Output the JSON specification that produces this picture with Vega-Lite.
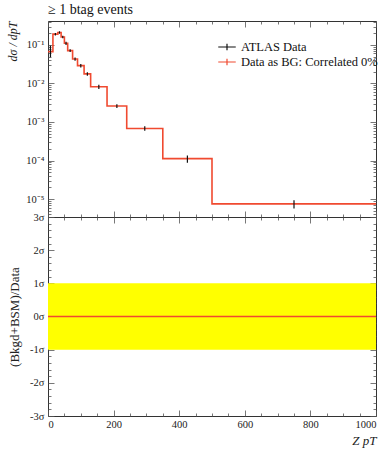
{
  "$schema": "https://vega.github.io/schema/vega-lite/v6.json",
  "background": "white",
  "padding": {"left": 6, "top": 2, "right": 0, "bottom": 0},
  "spacing": 0,
  "bounds": "flush",
  "config": {
    "font": "Liberation Serif",
    "view": {"stroke": "#333333", "strokeWidth": 1},
    "axis": {
      "domain": false, "grid": false,
      "labelFont": "Liberation Serif", "labelFontSize": 10.5, "labelColor": "#222222",
      "tickColor": "#555555", "tickWidth": 0.8, "labelOverlap": false,
      "titleFont": "Liberation Serif", "titleFontStyle": "italic", "titleFontWeight": "normal",
      "titleFontSize": 12, "titleColor": "#222222"
    }
  },
  "datasets": {
    "bins": [
      {"lo": 0, "hi": 15, "mid": 7.5, "val": 0.067, "errlo": 0.048, "errhi": 0.096, "dev": 0},
      {"lo": 15, "hi": 30, "mid": 22.5, "val": 0.19, "errlo": 0.175, "errhi": 0.205, "dev": 0},
      {"lo": 30, "hi": 40, "mid": 35, "val": 0.21, "errlo": 0.195, "errhi": 0.226, "dev": 0},
      {"lo": 40, "hi": 50, "mid": 45, "val": 0.16, "errlo": 0.148, "errhi": 0.172, "dev": 0},
      {"lo": 50, "hi": 60, "mid": 55, "val": 0.11, "errlo": 0.1, "errhi": 0.12, "dev": 0},
      {"lo": 60, "hi": 75, "mid": 67.5, "val": 0.071, "errlo": 0.065, "errhi": 0.077, "dev": 0},
      {"lo": 75, "hi": 90, "mid": 82.5, "val": 0.043, "errlo": 0.039, "errhi": 0.047, "dev": 0},
      {"lo": 90, "hi": 110, "mid": 100, "val": 0.029, "errlo": 0.026, "errhi": 0.032, "dev": 0},
      {"lo": 110, "hi": 130, "mid": 120, "val": 0.0177, "errlo": 0.0158, "errhi": 0.0196, "dev": 0},
      {"lo": 130, "hi": 180, "mid": 155, "val": 0.0082, "errlo": 0.0072, "errhi": 0.0092, "dev": 0},
      {"lo": 180, "hi": 240, "mid": 210, "val": 0.0026, "errlo": 0.0023, "errhi": 0.0029, "dev": 0},
      {"lo": 240, "hi": 350, "mid": 295, "val": 0.00068, "errlo": 0.00059, "errhi": 0.00077, "dev": 0},
      {"lo": 350, "hi": 500, "mid": 425, "val": 0.000112, "errlo": 0.000088, "errhi": 0.000136, "dev": 0},
      {"lo": 500, "hi": 1000, "mid": 750, "val": 0.0000075, "errlo": 0.0000057, "errhi": 0.0000093, "dev": 0}
    ]
  },
  "vconcat": [
    {
      "title": {"text": "≥ 1 btag events", "anchor": "start", "frame": "group", "fontSize": 14, "fontWeight": "normal", "font": "Liberation Serif", "color": "#111111", "offset": 0},
      "width": 328,
      "height": 196,
      "data": {"name": "bins"},
      "layer": [
        {
          "transform": [{"fold": ["lo", "hi"], "as": ["edge", "x"]}],
          "mark": {"type": "line", "strokeWidth": 1.6},
          "encoding": {
            "x": {"field": "x", "type": "quantitative",
              "scale": {"domain": [0, 1000], "nice": false, "zero": false},
              "axis": {"orient": "bottom", "title": null, "labels": false, "minExtent": 0, "maxExtent": 0,
                "values": [0,50,100,150,200,250,300,350,400,450,500,550,600,650,700,750,800,850,900,950,1000],
                "tickSize": {"condition": {"test": "datum.value % 200 === 0", "value": -6}, "value": -3}}},
            "y": {"field": "val", "type": "quantitative",
              "scale": {"type": "log", "domain": [0.00000343, 0.417], "nice": false},
              "axis": {"orient": "left", "title": "dσ / dpT", "titleAnchor": "end", "titlePadding": 6,
                "values": [0.000004,0.000005,0.000006,0.000007,0.000008,0.000009,0.00001,0.00002,0.00003,0.00004,0.00005,0.00006,0.00007,0.00008,0.00009,0.0001,0.0002,0.0003,0.0004,0.0005,0.0006,0.0007,0.0008,0.0009,0.001,0.002,0.003,0.004,0.005,0.006,0.007,0.008,0.009,0.01,0.02,0.03,0.04,0.05,0.06,0.07,0.08,0.09,0.1,0.2,0.3,0.4],
                "labelExpr": "abs(log(datum.value)/LN10 - round(log(datum.value)/LN10)) < 0.001 ? '10' + ['', '⁻¹', '⁻²', '⁻³', '⁻⁴', '⁻⁵'][-round(log(datum.value)/LN10)] : ''",
                "labelPadding": 10,
                "tickSize": {"condition": {"test": "abs(log(datum.value)/LN10 - round(log(datum.value)/LN10)) < 0.001", "value": -6}, "value": -3}}},
            "order": [{"field": "x", "type": "quantitative"}, {"field": "edge", "type": "nominal"}],
            "color": {"datum": "Data as BG: Correlated 0%",
              "scale": {"domain": ["ATLAS Data", "Data as BG: Correlated 0%"], "range": ["#111111", "#f04a30"]},
              "legend": {"orient": "none", "legendX": 171, "legendY": 18, "title": null, "padding": 0,
                "symbolType": "M-1.25,0L1.25,0M0,-0.45L0,0.45", "symbolSize": 196, "symbolStrokeWidth": 1.2,
                "labelFont": "Liberation Serif", "labelFontSize": 12.5, "labelColor": "#111111", "labelLimit": 0, "labelOffset": 6, "rowPadding": -3}}
          }
        },
        {
          "mark": {"type": "rule", "strokeWidth": 1.2},
          "encoding": {
            "x": {"field": "mid", "type": "quantitative",
              "axis": {"orient": "top", "title": null, "labels": false, "minExtent": 0, "maxExtent": 0,
                "values": [0,50,100,150,200,250,300,350,400,450,500,550,600,650,700,750,800,850,900,950,1000],
                "tickSize": {"condition": {"test": "datum.value % 200 === 0", "value": -6}, "value": -3}}},
            "y": {"field": "errlo", "type": "quantitative",
              "axis": {"orient": "right", "title": null, "labels": false, "minExtent": 0, "maxExtent": 0,
                "values": [0.000004,0.000005,0.000006,0.000007,0.000008,0.000009,0.00001,0.00002,0.00003,0.00004,0.00005,0.00006,0.00007,0.00008,0.00009,0.0001,0.0002,0.0003,0.0004,0.0005,0.0006,0.0007,0.0008,0.0009,0.001,0.002,0.003,0.004,0.005,0.006,0.007,0.008,0.009,0.01,0.02,0.03,0.04,0.05,0.06,0.07,0.08,0.09,0.1,0.2,0.3,0.4],
                "tickSize": {"condition": {"test": "abs(log(datum.value)/LN10 - round(log(datum.value)/LN10)) < 0.001", "value": -6}, "value": -3}}},
            "y2": {"field": "errhi"},
            "color": {"datum": "ATLAS Data"}
          }
        }
      ]
    },
    {
      "width": 328,
      "height": 199,
      "data": {"name": "bins"},
      "transform": [{"fold": ["lo", "hi"], "as": ["edge", "x"]}],
      "layer": [
        {
          "mark": {"type": "area", "color": "#ffff00", "opacity": 1},
          "encoding": {
            "x": {"field": "x", "type": "quantitative",
              "scale": {"domain": [0, 1000], "nice": false, "zero": false},
              "axis": {"orient": "top", "title": null, "labels": false, "minExtent": 0, "maxExtent": 0,
                "values": [0,50,100,150,200,250,300,350,400,450,500,550,600,650,700,750,800,850,900,950,1000],
                "tickSize": {"condition": {"test": "datum.value % 200 === 0", "value": -6}, "value": -3}}},
            "y": {"datum": 1, "type": "quantitative",
              "scale": {"domain": [-3, 3], "nice": false, "zero": false},
              "axis": {"orient": "right", "title": null, "labels": false, "minExtent": 0, "maxExtent": 0,
                "values": [-3,-2.8,-2.6,-2.4,-2.2,-2,-1.8,-1.6,-1.4,-1.2,-1,-0.8,-0.6,-0.4,-0.2,0,0.2,0.4,0.6,0.8,1,1.2,1.4,1.6,1.8,2,2.2,2.4,2.6,2.8,3],
                "tickSize": {"condition": {"test": "abs(datum.value - round(datum.value)) < 0.001", "value": -6}, "value": -3}}},
            "y2": {"datum": -1},
            "order": [{"field": "x", "type": "quantitative"}, {"field": "edge", "type": "nominal"}]
          }
        },
        {
          "mark": {"type": "line", "color": "#f04a30", "strokeWidth": 1.6},
          "encoding": {
            "x": {"field": "x", "type": "quantitative",
              "axis": {"orient": "bottom", "title": "Z pT", "titleAnchor": "end", "titlePadding": 2, "titleFontSize": 13,
                "values": [0,50,100,150,200,250,300,350,400,450,500,550,600,650,700,750,800,850,900,950,1000],
                "labelExpr": "datum.value % 200 === 0 ? format(datum.value, 'd') : ''",
                "labelPadding": 9,
                "tickSize": {"condition": {"test": "datum.value % 200 === 0", "value": -6}, "value": -3}}},
            "y": {"field": "dev", "type": "quantitative",
              "axis": {"orient": "left", "title": "(Bkgd+BSM)/Data", "titleFontStyle": "normal", "titleFontSize": 13, "titlePadding": 8,
                "values": [-3,-2.8,-2.6,-2.4,-2.2,-2,-1.8,-1.6,-1.4,-1.2,-1,-0.8,-0.6,-0.4,-0.2,0,0.2,0.4,0.6,0.8,1,1.2,1.4,1.6,1.8,2,2.2,2.4,2.6,2.8,3],
                "labelExpr": "abs(datum.value - round(datum.value)) < 0.001 ? '' + round(datum.value) + 'σ' : ''",
                "labelPadding": 10,
                "tickSize": {"condition": {"test": "abs(datum.value - round(datum.value)) < 0.001", "value": -6}, "value": -3}}},
            "order": [{"field": "x", "type": "quantitative"}, {"field": "edge", "type": "nominal"}]
          }
        }
      ]
    }
  ]
}
